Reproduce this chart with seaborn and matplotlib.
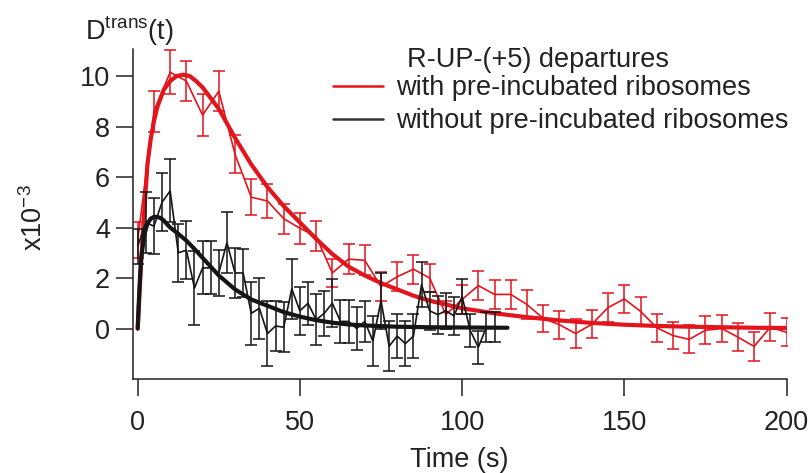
import matplotlib
matplotlib.use('Agg')
import numpy as np
import pandas as pd
import matplotlib.pyplot as plt
from matplotlib.lines import Line2D
import seaborn as sns

# measured points, red = with pre-incubated ribosomes (5 s bins)
red_t = [0, 5, 10, 15, 20, 25, 30, 35, 40, 45, 50, 55, 60, 65, 70, 75, 80, 85, 90, 95,
         100, 105, 110, 115, 120, 125, 130, 135, 140, 145, 150, 155, 160, 165, 170, 175,
         180, 185, 190, 195, 200]
red_val = [3.5, 8.6, 10.15, 9.8, 8.45, 9.4, 6.9, 5.2, 5.05, 4.35, 3.97, 3.65, 2.2, 2.75,
           2.7, 1.66, 2.05, 2.35, 2.0, 0.55, 1.15, 1.7, 1.35, 1.35, 0.95, 0.4, 0.15, -0.2,
           0.17, 0.83, 1.17, 0.68, 0.03, -0.28, -0.43, -0.07, 0.0, -0.34, -0.71, 0.05, -0.15]
red_err = [0.7, 0.8, 0.87, 0.8, 0.82, 0.8, 0.76, 0.72, 0.69, 0.6, 0.62, 0.6, 0.55, 0.59,
           0.6, 0.57, 0.57, 0.58, 0.57, 0.55, 0.57, 0.56, 0.56, 0.56, 0.56, 0.55, 0.55, 0.56,
           0.55, 0.56, 0.56, 0.55, 0.55, 0.55, 0.56, 0.55, 0.55, 0.55, 0.56, 0.55, 0.56]

# black = without pre-incubated ribosomes (2.5 s bins)
blk_t = [0, 2.5, 5, 7.5, 10, 12.5, 15, 17.5, 20, 22.5, 25, 27.5, 30, 32.5, 35, 37.5, 40,
         42.5, 45, 47.5, 50, 52.5, 55, 57.5, 60, 62.5, 65, 67.5, 70, 72.5, 75, 77.5, 80,
         82.5, 85, 87.5, 90, 92.5, 95, 97.5, 100, 102.5, 105, 107.5, 110]
blk_val = [3.25, 4.2, 4.05, 5.0, 5.45, 3.0, 3.1, 1.6, 2.4, 2.4, 2.2, 3.4, 2.2, 2.2, 0.6,
           0.8, -0.2, 0.1, 0.05, 1.57, 0.7, 1.0, 0.35, 0.6, 1.0, 0.28, 0.28, 0.0, 0.28,
           -0.5, 1.1, -0.7, -0.3, -0.6, -0.3, 1.74, 0.7, 0.55, 0.7, 0.5, 1.27, -0.08,
           -0.74, 0.05, 0.05]
blk_err = [0.7, 1.2, 1.1, 1.15, 1.25, 1.15, 1.15, 1.45, 1.05, 1.05, 0.9, 1.2, 1.0, 0.95,
           1.25, 1.2, 1.28, 1.0, 1.0, 1.2, 0.95, 0.85, 1.0, 0.9, 0.95, 0.85, 0.85, 0.85,
           0.8, 1.0, 1.1, 1.0, 0.86, 0.9, 0.86, 0.9, 0.75, 0.75, 0.7, 0.75, 0.7, 0.65,
           0.66, 0.6, 0.6]

# fitted curves
red_fit_t = [0, 1, 2, 3, 4, 5, 6, 8, 10, 12, 14, 16, 18, 20, 25, 30, 35, 40, 45, 50, 55,
             60, 65, 70, 75, 80, 85, 90, 95, 100, 110, 120, 130, 140, 150, 160, 170, 180,
             190, 200]
red_fit = [0, 2.5, 4.6, 6.5, 7.5, 8.2, 8.75, 9.45, 9.8, 10.0, 10.05, 10.0, 9.8, 9.55, 8.7,
           7.55, 6.5, 5.6, 4.85, 4.2, 3.55, 2.95, 2.45, 2.1, 1.8, 1.55, 1.3, 1.1, 0.95, 0.8,
           0.6, 0.45, 0.32, 0.22, 0.15, 0.1, 0.07, 0.05, 0.03, 0.02]
blk_fit_t = [0, 0.5, 1, 2, 3, 4, 5, 6, 7, 8, 10, 12.5, 15, 17.5, 20, 25, 30, 35, 40, 45,
             50, 55, 60, 65, 70, 80, 90, 100, 114]
blk_fit = [0, 1.5, 2.7, 3.7, 4.15, 4.35, 4.42, 4.42, 4.38, 4.28, 4.0, 3.75, 3.48, 3.15,
           2.8, 2.1, 1.55, 1.15, 0.9, 0.65, 0.47, 0.33, 0.23, 0.16, 0.12, 0.07, 0.05, 0.04,
           0.03]

RED = '#e3141c'
BLK = '#151515'

sns.set_style('ticks')
plt.rcParams['font.family'] = ['Liberation Sans', 'DejaVu Sans']
plt.rcParams['mathtext.fontset'] = 'custom'
plt.rcParams['mathtext.rm'] = 'Liberation Sans'
plt.rcParams['mathtext.default'] = 'regular'

fig = plt.figure(figsize=(8.11, 4.73), dpi=100)
ax = fig.add_axes([133 / 811, 1 - 379 / 473, (786.5 - 133) / 811, (379 - 49) / 473])

red_df = pd.DataFrame({'t': red_t, 'v': red_val, 'err': red_err})
blk_df = pd.DataFrame({'t': blk_t, 'v': blk_val, 'err': blk_err})

# red set
ax.errorbar(red_df['t'], red_df['v'], yerr=red_df['err'], fmt='none', ecolor=RED,
            elinewidth=1.3, capsize=4.6, capthick=1.3, alpha=0.85)
sns.lineplot(data=red_df, x='t', y='v', color=RED, lw=1.2, ax=ax, estimator=None)
sns.lineplot(x=red_fit_t, y=red_fit, color=RED, lw=3, ax=ax, estimator=None)

# black set
ax.errorbar(blk_df['t'], blk_df['v'], yerr=blk_df['err'], fmt='none', ecolor=BLK,
            elinewidth=1.3, capsize=4.6, capthick=1.3, alpha=0.85)
sns.lineplot(data=blk_df, x='t', y='v', color=BLK, lw=1.2, ax=ax, estimator=None)
sns.lineplot(x=blk_fit_t, y=blk_fit, color=BLK, lw=3, ax=ax, estimator=None)

ax.set_xlim(-1.45, 200)
ax.set_ylim(-2.0, 11.07)
ax.set_xticks([0, 50, 100, 150, 200])
ax.set_yticks([0, 2, 4, 6, 8, 10])
sns.despine(ax=ax)
for s in ['left', 'bottom']:
    ax.spines[s].set_linewidth(1.1)
    ax.spines[s].set_color('#222222')
ax.tick_params(direction='out', length=12.5, width=1.1, color='#222222',
               labelsize=19.5, labelcolor='#222222')
ax.tick_params(axis='x', pad=10)
ax.tick_params(axis='y', pad=4)

ax.set_xlabel('Time (s)', fontsize=19.5, color='#222222', labelpad=8)
ax.set_ylabel('x10$^{-3}$', fontsize=19.5, color='#222222')
ax.yaxis.set_label_coords(-0.13, 0.49)

fig.text(85 / 811, 1 - 40 / 473, 'D$^{trans}$(t)', fontsize=19.5, color='#222222',
         va='baseline', ha='left')

# legend
fig.text(407 / 811, 1 - 66.7 / 473, 'R-UP-(+5) departures', fontsize=19.5,
         color='#222222', va='baseline', ha='left')
handles = [Line2D([], [], color=RED, lw=1.8), Line2D([], [], color='#333333', lw=1.8)]
ax.legend(handles, ['with pre-incubated ribosomes', 'without pre-incubated ribosomes'],
          loc='upper left', bbox_to_anchor=(333 / 811, 1 - 75 / 473),
          bbox_transform=fig.transFigure, frameon=False, fontsize=19.5,
          handlelength=1.83, handletextpad=0.5, labelspacing=0.27,
          borderpad=0, borderaxespad=0, labelcolor='#222222')

fig.savefig('out.png', dpi=100)
